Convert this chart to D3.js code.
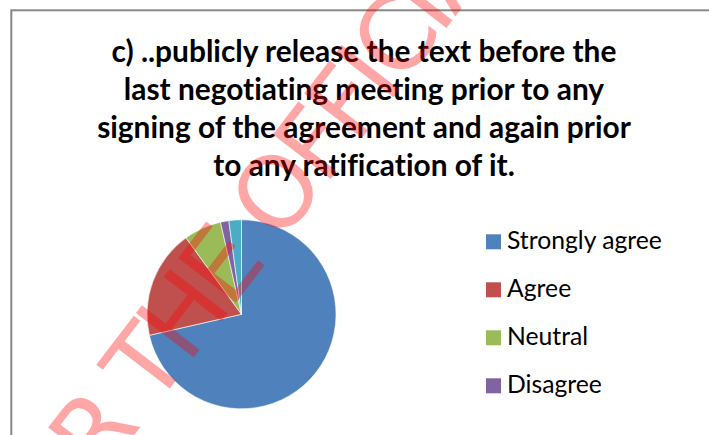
<!DOCTYPE html>
<html>
<head>
<meta charset="utf-8">
<script src="https://cdn.jsdelivr.net/npm/d3@7"></script>
<style>
  html, body { margin: 0; padding: 0; background: #ffffff; }
  svg { display: block; }
  text { font-variant-ligatures: none; font-feature-settings: "liga" 0, "clig" 0; }
</style>
</head>
<body>
<svg id="chart" width="709" height="435"></svg>
<script>
// ---- data ----
const categories = ["Strongly agree", "Agree", "Neutral", "Disagree", "Strongly disagree"];
const values = [100, 26, 9, 2, 3];
const colors = ["#4F81BD", "#C0504D", "#9BBB59", "#8064A2", "#4BACC6"];
const legendCategories = ["Strongly agree", "Agree", "Neutral", "Disagree"];
const titleLines = [
  "c) ..publicly release the text before the",
  "last negotiating meeting prior to any",
  "signing of the agreement and again prior",
  "to any ratification of it."
];
const watermarkText = "FOR THE OFFICIAL USE ONLY";

// ---- layout ----
const svg = d3.select("#chart");

// chart frame
svg.append("rect")
  .attr("x", 11.3).attr("y", 10.3)
  .attr("width", 900).attr("height", 600)
  .attr("fill", "#ffffff")
  .attr("stroke", "#878787")
  .attr("stroke-width", 2);

// title
const titleFont = "Lato, 'Open Sans', sans-serif";
const titleG = svg.append("g");
const probe = titleG.append("text")
  .attr("font-family", titleFont).attr("font-weight", 700)
  .attr("font-size", 100).text(titleLines[0]);
const titleSize = 100 * 505 / probe.node().getComputedTextLength();
probe.remove();
const titleBase = [61.5, 99.5, 137.8, 176.3];
titleG.selectAll("text").data(titleLines).join("text")
  .attr("x", 364)
  .attr("y", (d, i) => titleBase[i])
  .attr("text-anchor", "middle")
  .attr("font-family", titleFont)
  .attr("font-weight", 700)
  .attr("font-size", titleSize)
  .attr("fill", "#000000")
  .text(d => d);

// pie
const cx = 241.5, cy = 314.3, r = 94.5;
const pie = d3.pie().sort(null).value(d => d.v);
const arc = d3.arc().innerRadius(0).outerRadius(r);
const pieData = pie(categories.map((c, i) => ({ c, v: values[i], col: colors[i] })));
svg.append("g")
  .attr("transform", `translate(${cx},${cy})`)
  .selectAll("path").data(pieData).join("path")
  .attr("d", arc)
  .attr("fill", d => d.data.col)
  .attr("stroke", "#ffffff")
  .attr("stroke-width", 0.6);

// legend
const legendFont = "Lato, 'Open Sans', sans-serif";
const lg = svg.append("g");
const lprobe = lg.append("text").attr("font-family", legendFont)
  .attr("font-size", 100).text(legendCategories[0]);
const legendSize = 100 * 155 / lprobe.node().getComputedTextLength();
lprobe.remove();
const legendY = d3.scalePoint().domain(legendCategories).range([249.3, 393.3]);
const items = lg.selectAll("g").data(legendCategories).join("g")
  .attr("transform", d => `translate(0,${legendY(d)})`);
items.append("rect")
  .attr("x", 486).attr("y", -15)
  .attr("width", 15).attr("height", 15)
  .attr("fill", (d, i) => colors[i]);
items.append("text")
  .attr("x", 507).attr("y", 0)
  .attr("font-family", legendFont)
  .attr("font-size", legendSize)
  .attr("fill", "#000000")
  .text(d => d);

// watermark (anchored on the "T" of THE)
const wm = svg.append("g");
const wmText = wm.append("text")
  .attr("x", 0).attr("y", 0)
  .attr("font-family", "'DejaVu Sans', sans-serif")
  .attr("font-size", 100)
  .attr("letter-spacing", -6)
  .attr("fill", "#ff0000")
  .attr("fill-opacity", 0.35)
  .text(watermarkText);
const n = wmText.node();
const tIdx = 4;
const tb = n.getExtentOfChar(tIdx);
const tx = tb.x + tb.width / 2;
wm.attr("transform", `translate(171,387) rotate(-52.5) translate(${-tx},0)`);
</script>
</body>
</html>
